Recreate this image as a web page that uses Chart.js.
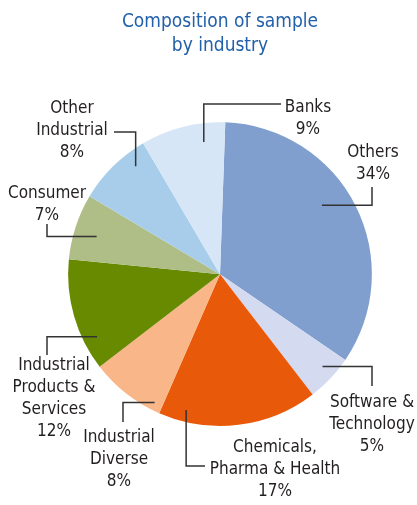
<!DOCTYPE html>
<html>
<head>
<meta charset="utf-8">
<style>
  html, body { margin: 0; padding: 0; background: #ffffff; }
  #wrap { width: 417px; height: 505px; }
</style>
<script src="https://cdn.jsdelivr.net/npm/chart.js@4/dist/chart.umd.min.js"></script>
</head>
<body>
<div id="wrap"><canvas id="chart" width="417" height="505"></canvas></div>
<script>
// Sample composition by industry (share of sample, %)
const categories = [
  ['Others'],
  ['Software &', 'Technology'],
  ['Chemicals,', 'Pharma & Health'],
  ['Industrial', 'Diverse'],
  ['Industrial', 'Products &', 'Services'],
  ['Consumer'],
  ['Other', 'Industrial'],
  ['Banks']
];
const shares = [34, 5, 17, 8, 12, 7, 8, 9];
const sliceColors = ['#809fcf', '#d4dbf1', '#e8590a', '#f9b688', '#678a00', '#afbd87', '#a8cdea', '#d6e6f6'];

// Callout placement: anchor inside the slice (angle from 12 o'clock in degrees,
// radius in px), first leg direction, bend/end point, text centre and first baseline.
const callouts = [
  { ang: 56,  r: 123, first: 'h', ex: 372, ey: 187, tx: 373, ty: 157 },
  { ang: 132, r: 138, first: 'h', ex: 372, ey: 386, tx: 372, ty: 407 },
  { ang: 194, r: 140, first: 'v', ex: 205, ey: 466, tx: 275, ty: 452 },
  { ang: 207, r: 144, first: 'h', ex: 123, ey: 422, tx: 119, ty: 442 },
  { ang: 243, r: 138, first: 'h', ex: 47,  ey: 355, tx: 54,  ty: 370 },
  { ang: 287, r: 129, first: 'h', ex: 47,  ey: 224, tx: 47,  ty: 198 },
  { ang: 322, r: 137, first: 'v', ex: 114, ey: 132, tx: 72,  ty: 113 },
  { ang: 353, r: 133, first: 'v', ex: 281, ey: 104, tx: 308, ty: 112 }
];

const FONT = '"Liberation Sans Narrow", "DejaVu Sans Condensed", "Roboto", sans-serif';
const TEXT_COLOR = '#231f20';

const calloutPlugin = {
  id: 'callouts',
  afterDatasetsDraw(chart) {
    const ctx = chart.ctx;
    const meta = chart.getDatasetMeta(0);
    ctx.save();
    meta.data.forEach((arc, i) => {
      const c = callouts[i];
      const a = (c.ang - 90) * Math.PI / 180;
      const ix = arc.x + c.r * Math.cos(a);
      const iy = arc.y + c.r * Math.sin(a);
      const bx = c.first === 'h' ? c.ex : ix;
      const by = c.first === 'h' ? iy : c.ey;
      ctx.beginPath();
      ctx.moveTo(ix, iy);
      ctx.lineTo(bx, by);
      ctx.lineTo(c.ex, c.ey);
      ctx.strokeStyle = '#333333';
      ctx.lineWidth = 1.5;
      ctx.stroke();

      const lines = categories[i].concat([shares[i] + '%']);
      ctx.fillStyle = TEXT_COLOR;
      ctx.font = '17px ' + FONT;
      ctx.textAlign = 'center';
      ctx.textBaseline = 'alphabetic';
      lines.forEach((t, k) => ctx.fillText(t, c.tx, c.ty + k * 22));
    });
    ctx.restore();
  }
};

new Chart(document.getElementById('chart'), {
  type: 'pie',
  data: {
    labels: categories.map(l => l.join(' ')),
    datasets: [{
      data: shares,
      backgroundColor: sliceColors,
      borderWidth: 0,
      hoverOffset: 0
    }]
  },
  options: {
    responsive: false,
    animation: false,
    rotation: 2,
    layout: { padding: { left: 68, right: 45, top: 0, bottom: 79 } },
    plugins: {
      legend: { display: false },
      tooltip: { enabled: false },
      title: {
        display: true,
        text: ['Composition of sample', 'by industry'],
        color: '#2260aa',
        font: { family: FONT, size: 19, weight: 'normal', lineHeight: 1.27 },
        padding: { top: 10, bottom: 64 }
      }
    }
  },
  plugins: [calloutPlugin]
});
</script>
</body>
</html>
